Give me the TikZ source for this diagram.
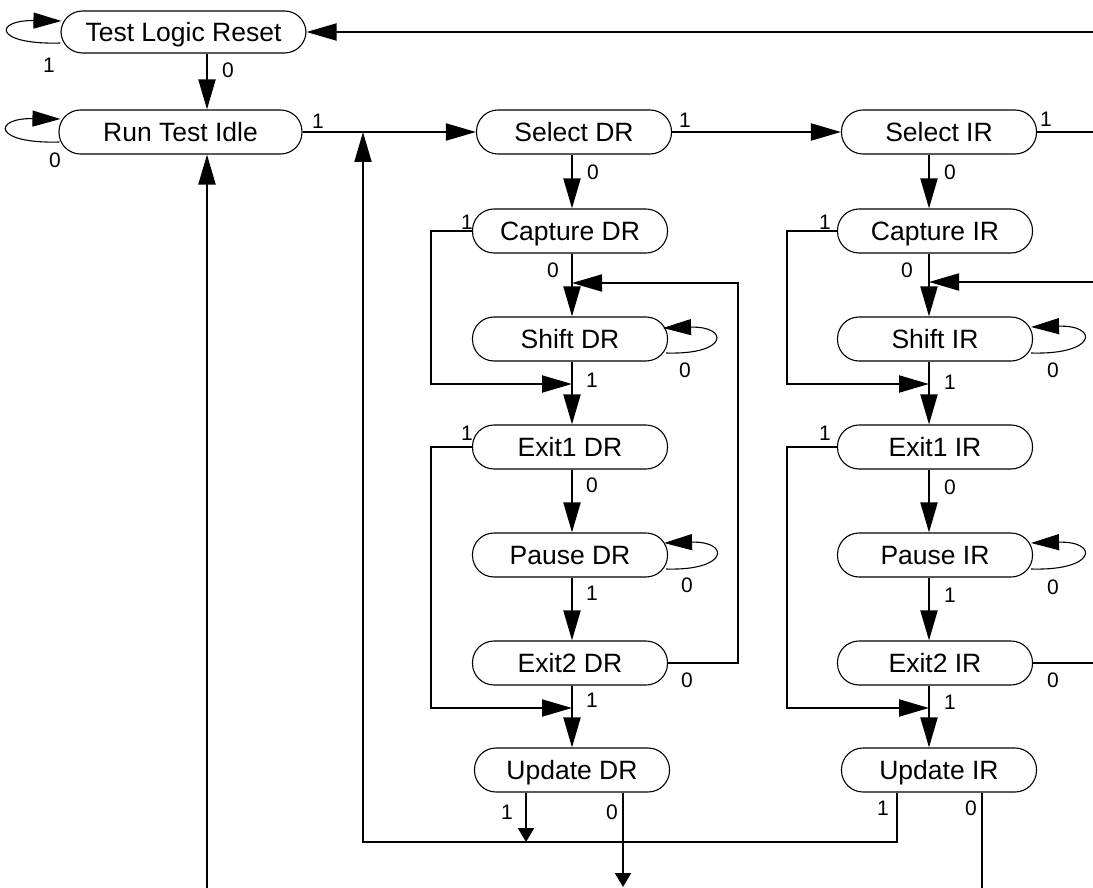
\documentclass[tikz,border=0pt]{standalone}
\usepackage{fontspec}
\setmainfont{Liberation Sans}
\usetikzlibrary{arrows.meta,calc}
\begin{document}
\begin{tikzpicture}[x=1pt,y=-1pt,
 state/.style={draw, line width=1.1pt, rounded corners=21.5pt, minimum width=195pt, minimum height=44pt, inner sep=0pt, text height=18.8pt, text depth=0pt, font=\fontsize{26.5}{30}\selectfont},
 lbl/.style={font=\fontsize{21}{24}\selectfont, inner sep=0pt},
 conn/.style={line width=2pt},
 bigar/.style={-{Triangle[length=30pt,width=17pt]}},
 smallar/.style={-{Triangle[length=14pt,width=16pt]}},
 loopline/.style={line width=1.1pt, -{Triangle[length=28pt,width=16pt]}},
]
\useasboundingbox (0,0) rectangle (1093,888);
% nodes
\node[state, minimum width=245pt, minimum height=42pt] (tlr) at (183.5,32) {Test Logic Reset};
\node[state, minimum width=243pt] (rti) at (180.5,132) {Run Test Idle};
\node[state] (seldr) at (574,132) {Select DR};
\node[state] (selir) at (939,132) {Select IR};
\node[state] (capdr) at (570,231) {Capture DR};
\node[state] (capir) at (935,231) {Capture IR};
\node[state] (shdr) at (570,339) {Shift DR};
\node[state] (shir) at (935,339) {Shift IR};
\node[state] (ex1dr) at (570,447) {Exit1 DR};
\node[state] (ex1ir) at (935,447) {Exit1 IR};
\node[state] (padr) at (570,555) {Pause DR};
\node[state] (pair) at (935,555) {Pause IR};
\node[state] (ex2dr) at (570,663) {Exit2 DR};
\node[state] (ex2ir) at (935,663) {Exit2 IR};
\node[state] (updr) at (572,770) {Update DR};
\node[state] (updir) at (939,770) {Update IR};
% helper coordinates
\coordinate (xd) at (572,0);
\coordinate (xi) at (929,0);
\coordinate (ld) at (431,0);
\coordinate (li) at (787,0);
\coordinate (rd) at (738,0);
\coordinate (ret) at (363,0);
\coordinate (xr) at (207,0);
\coordinate (edge) at (1093,0);
\coordinate (bot) at (0,888);
\coordinate (botar) at (0,887);
\coordinate (ybus) at (0,842);
\coordinate (yfb) at (0,283);
\coordinate (yfbi) at (0,282);
\coordinate (yl1) at (0,384);
\coordinate (yl2) at (0,708);
\coordinate (xuad) at (526,0);
\coordinate (xubd) at (623,0);
\coordinate (xuai) at (897,0);
\coordinate (xubi) at (982,0);
% top part
\draw[conn,bigar] (tlr.south -| xr) -- (rti.north -| xr);
\draw[conn,bigar] (tlr.east -| edge) -- (tlr.east);
\draw[conn,bigar] (bot -| xr) -- (rti.south -| xr);
\draw[conn,bigar] (rti.east) -- (seldr.west);
\draw[conn,bigar] (seldr.east) -- (selir.west);
\draw[conn] (selir.east) -- (selir.east -| edge);
% self loops left
\draw[loopline] ($(tlr.west)+(0,11)$) .. controls +(-67,2) and +(-68,-1) .. ($(tlr.west)+(1,-11)$);
\draw[loopline] ($(rti.west)+(1,10)$) .. controls +(-67,2) and +(-68,-1) .. ($(rti.west)+(2,-13)$);
% DR column
\draw[conn,bigar] (seldr.south -| xd) -- (capdr.north -| xd);
\draw[conn,bigar] (capdr.south -| xd) -- (shdr.north -| xd);
\draw[conn,bigar] (shdr.south -| xd) -- (ex1dr.north -| xd);
\draw[conn,bigar] (ex1dr.south -| xd) -- (padr.north -| xd);
\draw[conn,bigar] (padr.south -| xd) -- (ex2dr.north -| xd);
\draw[conn,bigar] (ex2dr.south -| xd) -- (updr.north -| xd);
\draw[conn,bigar] (capdr.west) -| (ld |- yl1) -- (xd |- yl1);
\draw[conn,bigar] (ex1dr.west) -| (ld |- yl2) -- (xd |- yl2);
\draw[conn,bigar] (ex2dr.east) -| (rd |- yfb) -- (xd |- yfb);
\draw[loopline] ($(shdr.east)+(-2,14)$) .. controls +(63,2) and +(66,-2) .. ($(shdr.east)+(-5,-11)$);
\draw[loopline] ($(padr.east)+(-2,14)$) .. controls +(63,2) and +(66,-2) .. ($(padr.east)+(-4,-12)$);
\draw[conn,smallar] (updr.south -| xuad) -- (xuad |- ybus);
\draw[conn,smallar] (updr.south -| xubd) -- (xubd |- botar);
% IR column
\draw[conn,bigar] (selir.south -| xi) -- (capir.north -| xi);
\draw[conn,bigar] (capir.south -| xi) -- (shir.north -| xi);
\draw[conn,bigar] (shir.south -| xi) -- (ex1ir.north -| xi);
\draw[conn,bigar] (ex1ir.south -| xi) -- (pair.north -| xi);
\draw[conn,bigar] (pair.south -| xi) -- (ex2ir.north -| xi);
\draw[conn,bigar] (ex2ir.south -| xi) -- (updir.north -| xi);
\draw[conn,bigar] (capir.west) -| (li |- yl1) -- (xi |- yl1);
\draw[conn,bigar] (ex1ir.west) -| (li |- yl2) -- (xi |- yl2);
\draw[conn] (ex2ir.east) -- (ex2ir.east -| edge);
\draw[conn,bigar] (edge |- yfbi) -- (xi |- yfbi);
\draw[loopline] ($(shir.east)+(-2,14)$) .. controls +(66,2) and +(68,-2) .. ($(shir.east)+(-2,-12)$);
\draw[loopline] ($(pair.east)+(-2,14)$) .. controls +(66,2) and +(68,-2) .. ($(pair.east)+(-2,-12)$);
\draw[conn,bigar] (updir.south -| xuai) |- (ret |- ybus) -- (ret |- rti.east);
\draw[conn] (updir.south -| xubi) -- (xubi |- bot);
% labels
\node[lbl] (t1) at (49,65) {1};
\node[lbl] (t0) at (228,70) {0};
\node[lbl] (r0) at (55,160) {0};
\node[lbl] (r1) at (318,121) {1};
\node[lbl] (sd1) at (685,120) {1};
\node[lbl] (sd0) at (593,172) {0};
\node[lbl] (si1) at (1046,119) {1};
\node[lbl] (si0) at (950,172) {0};
\node[lbl] (cd1) at (467,222) {1};
\node[lbl] (cd0) at (553,270) {0};
\node[lbl] (ci1) at (825,222) {1};
\node[lbl] (ci0) at (907,270) {0};
\node[lbl] (hd0) at (685,370) {0};
\node[lbl] (hd1) at (592,380) {1};
\node[lbl] (hi0) at (1053,370) {0};
\node[lbl] (hi1) at (950,382) {1};
\node[lbl] (ed1) at (467,433) {1};
\node[lbl] (ed0) at (592,485) {0};
\node[lbl] (ei1) at (825,433) {1};
\node[lbl] (ei0) at (950,487) {0};
\node[lbl] (pd0) at (687,585) {0};
\node[lbl] (pd1) at (592,593) {1};
\node[lbl] (pi0) at (1053,587) {0};
\node[lbl] (pi1) at (950,595) {1};
\node[lbl] (fd0) at (687,680) {0};
\node[lbl] (fd1) at (592,700) {1};
\node[lbl] (fi0) at (1053,680) {0};
\node[lbl] (fi1) at (950,702) {1};
\node[lbl] (ud1) at (507,812) {1};
\node[lbl] (ud0) at (612,812) {0};
\node[lbl] (ui1) at (883,808) {1};
\node[lbl] (ui0) at (971,808) {0};
\end{tikzpicture}
\end{document}
